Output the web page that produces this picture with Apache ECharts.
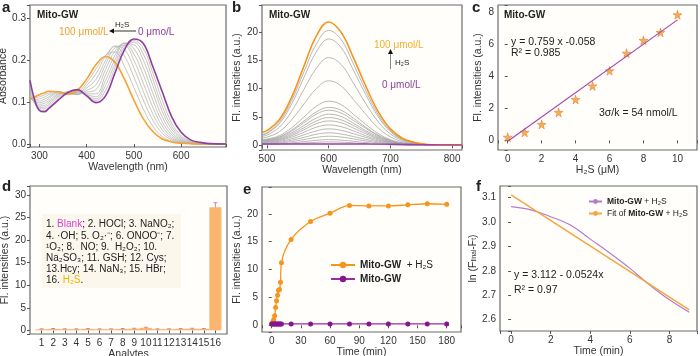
<!DOCTYPE html>
<html><head><meta charset="utf-8">
<script src="https://cdn.jsdelivr.net/npm/echarts@6/dist/echarts.min.js"></script>
<style>html,body{margin:0;padding:0;background:#fff}#c{width:700px;height:356px}</style>
</head><body><div id="c"></div><script>
// ---------- Panel a : absorption spectra ----------
const aWavelength = [280,290,300,310,320,340,360,380,400,420,440,460,480,500,520,540,560,580,600,620,640,660,695];
const aAbs0   = [.152,.105,.080,.077,.085,.105,.123,.130,.115,.099,.115,.170,.225,.251,.240,.185,.125,.065,.028,.010,.004,.001,0];
const aAbs100 = [.108,.113,.118,.122,.126,.125,.119,.128,.155,.190,.209,.195,.155,.105,.060,.030,.012,.005,.002,.001,0,0,0];
const aAbsIntermediate = [
  [.140,.100,.082,.080,.088,.108,.124,.128,.115,.104,.128,.182,.232,.247,.228,.170,.105,.050,.020,.008,.003,.001,0],
  [.130,.098,.085,.084,.092,.112,.124,.126,.116,.108,.140,.192,.237,.243,.215,.155,.090,.042,.016,.006,.002,.001,0],
  [.122,.097,.088,.088,.096,.115,.124,.124,.118,.113,.152,.202,.240,.237,.200,.140,.078,.035,.013,.005,.002,0,0],
  [.117,.098,.091,.092,.100,.118,.124,.122,.120,.120,.165,.212,.242,.228,.183,.122,.065,.028,.010,.004,.001,0,0],
  [.113,.100,.095,.097,.104,.120,.123,.120,.124,.130,.178,.222,.240,.215,.165,.105,.053,.022,.008,.003,.001,0,0],
  [.110,.102,.099,.102,.109,.122,.122,.118,.128,.142,.190,.230,.235,.200,.145,.088,.043,.017,.006,.002,.001,0,0],
  [.108,.104,.103,.107,.113,.124,.121,.118,.134,.155,.200,.234,.226,.182,.125,.072,.034,.013,.005,.002,0,0,0],
  [.107,.107,.108,.112,.118,.125,.120,.120,.140,.168,.210,.233,.210,.160,.105,.057,.026,.010,.004,.001,0,0,0],
  [.107,.110,.113,.117,.122,.126,.120,.123,.147,.180,.212,.220,.185,.135,.083,.043,.018,.007,.003,.001,0,0,0]
];
// ---------- Panel b : fluorescence spectra ----------
const bWavelength = [492,500,520,540,560,580,600,620,640,660,680,700,720,740,760,780,800,816];
const bFl100 = [2.3,2.6,4.5,8.5,14.0,19.3,21.8,20.0,15.5,10.5,6.0,2.9,1.2,0.5,0.15,0.05,0.02,0];
const bFl0   = [0.22,0.22,0.22,0.22,0.22,0.22,0.22,0.22,0.22,0.22,0.21,0.19,0.16,0.13,0.1,0.08,0.08,0.08];
const bFlIntermediate = [
  [1.9,2.2,4.1,7.9,13.0,17.9,20.3,18.7,14.4,9.7,5.5,2.6,1.1,0.45,0.14,0.04,0.02,0],
  [1.8,2.1,3.8,7.3,12.0,16.5,18.8,17.3,13.3,9.0,5.1,2.4,1.0,0.41,0.13,0.04,0.02,0],
  [1.6,1.8,3.2,6.0,9.9,13.6,15.5,14.3,11.0,7.4,4.2,2.0,0.85,0.34,0.11,0.03,0.01,0],
  [1.3,1.45,2.4,4.5,7.3,10.0,11.4,10.5,8.1,5.5,3.1,1.5,0.63,0.25,0.08,0.02,0.01,0],
  [1.0,1.1,1.7,3.1,5.0,6.9,7.8,7.2,5.5,3.7,2.1,1.0,0.43,0.17,0.05,0.02,0,0],
  [0.9,1.0,1.5,2.7,4.3,5.9,6.7,6.2,4.8,3.2,1.8,0.87,0.37,0.15,0.05,0.01,0,0],
  [0.85,0.95,1.4,2.5,4.0,5.5,6.2,5.7,4.4,3.0,1.7,0.8,0.34,0.14,0.04,0.01,0,0],
  [0.8,0.85,1.25,2.2,3.5,4.8,5.5,5.1,3.9,2.6,1.5,0.72,0.3,0.12,0.04,0.01,0,0],
  [0.7,0.78,1.1,1.95,3.1,4.3,4.9,4.5,3.5,2.35,1.3,0.64,0.27,0.11,0.03,0.01,0,0],
  [0.62,0.7,1.0,1.7,2.75,3.8,4.3,4.0,3.05,2.05,1.15,0.56,0.24,0.09,0.03,0.01,0,0],
  [0.55,0.6,0.85,1.45,2.3,3.2,3.6,3.3,2.55,1.7,0.97,0.47,0.2,0.08,0.03,0,0,0],
  [0.45,0.5,0.7,1.15,1.85,2.55,2.9,2.65,2.05,1.4,0.78,0.38,0.16,0.06,0.02,0,0,0],
  [0.35,0.4,0.55,0.9,1.4,1.95,2.2,2.0,1.55,1.05,0.6,0.29,0.12,0.05,0.02,0,0,0],
  [0.28,0.3,0.4,0.65,1.0,1.4,1.6,1.47,1.13,0.77,0.43,0.21,0.09,0.04,0.01,0,0,0],
  [0.2,0.21,0.28,0.42,0.65,0.88,1.0,0.92,0.71,0.48,0.27,0.13,0.06,0.02,0.01,0,0,0],
  [0.15,0.16,0.2,0.28,0.4,0.53,0.6,0.55,0.43,0.29,0.17,0.08,0.04,0.01,0,0,0,0]
];
// ---------- Panel c : linear range ----------
const cConc = [0,1,2,3,4,5,6,7,8,9,10];
const cFl = [0.2,0.5,1.0,1.75,2.55,3.4,4.35,5.45,6.25,6.75,7.85];
const cFitConc = [0,10];
const cFitFl = [-0.06,7.53];
// ---------- Panel d : selectivity ----------
const dAnalytes = ['1','2','3','4','5','6','7','8','9','10','11','12','13','14','15','16'];
const dIntensity = [0.25,0.3,0.25,0.25,0.3,0.25,0.25,0.3,0.35,0.55,0.25,0.25,0.3,0.35,0.3,27.3];
const dError = [0.08,0.1,0.08,0.08,0.1,0.08,0.08,0.08,0.1,0.12,0.08,0.08,0.08,0.1,0.08,1.0];
// ---------- Panel e : kinetics ----------
const eTime = [0,1,2,3,4,5,6,7,8,9,10,20,40,60,80,100,120,140,160,180];
const eWithH2S = [0.3,0.6,1.0,1.7,3.2,4.4,5.4,6.3,6.4,7.7,11.2,15.4,18.6,20.1,21.5,21.4,21.4,21.6,21.8,21.7];
const eProbeOnly = [0.25,0.25,0.25,0.25,0.25,0.25,0.25,0.25,0.25,0.25,0.25,0.25,0.25,0.25,0.25,0.25,0.25,0.25,0.25,0.25];
// ---------- Panel f : pseudo-first-order fit ----------
const fTime = [0,1,2,3,4,5,6,7,8,9];
const fLn = [3.063,3.05,3.022,2.988,2.93,2.872,2.81,2.742,2.681,2.63];
const fFitTime = [0,9];
const fFitLn = [3.112,2.640];

const FF = 'Arial, "Liberation Sans", Helvetica, sans-serif';
const zip = (xs, ys) => xs.map((x, i) => [x, ys[i]]);
const PURPLE = '#8e3f9e', ORANGE = '#f5a236';

function mkGrid(l, t, w, h) {
  return {left: l, top: t, width: w, height: h, show: true, borderColor: '#6a6a6a', borderWidth: 1.2,
          backgroundColor: '#fffefa', containLabel: false, outerBoundsMode: 'none'};
}
function niceFmt(step, dec) {
  return v => (Math.abs(v / step - Math.round(v / step)) < 1e-6) ? Number(v).toFixed(dec) : '';
}
function vAxis(gi, min, max, split, step, dec, name, gap, extra) {
  return Object.assign({
    type: 'value', gridIndex: gi, min, max, splitNumber: split,
    axisLine: {show: false}, splitLine: {show: false},
    axisTick: {show: true, inside: false, length: 3, lineStyle: {color: '#555'}},
    axisLabel: {fontSize: 10, color: '#333', margin: 4, fontFamily: FF, formatter: niceFmt(step, dec)},
    name, nameLocation: 'middle', nameGap: gap,
    nameTextStyle: {fontSize: 10.5, color: '#333', fontFamily: FF}
  }, extra || {});
}

const grids = [
  mkGrid(30, 5, 196, 142),    // a
  mkGrid(262, 5, 200, 145),   // b
  mkGrid(498, 5, 199, 145),   // c
  mkGrid(30, 186, 197, 148),  // d
  mkGrid(262, 187, 199, 145), // e
  mkGrid(500, 186, 197, 145)  // f
];

const xAxes = [
  vAxis(0, 280, 695, 4, 100, 0, 'Wavelength (nm)', 13),
  vAxis(1, 492, 816, 3, 100, 0, 'Wavelength (nm)', 12),
  vAxis(2, -0.57, 11.15, 6, 2, 0, 'H₂S (μM)', 12),
  {type: 'category', gridIndex: 3, boundaryGap: false, data: ['0', ...dAnalytes, '17'],
   axisLine: {show: false}, splitLine: {show: false},
   axisTick: {show: true, length: 3, interval: (i) => i > 0 && i < 17, lineStyle: {color: '#555'}},
   axisLabel: {fontSize: 10, color: '#333', margin: 4, interval: 0, fontFamily: FF,
               formatter: v => (v === '0' || v === '17') ? '' : v},
   name: 'Analytes', nameLocation: 'middle', nameGap: 12,
   nameTextStyle: {fontSize: 10.5, color: '#333', fontFamily: FF}},
  vAxis(4, -10, 194.7, 7, 30, 0, 'Time (min)', 12),
  vAxis(5, -0.56, 9.39, 5, 2, 0, 'Time (min)', 12)
];
const yAxes = [
  vAxis(0, -0.007, 0.332, 3, 0.1, 1, 'Absorbance', 18),
  vAxis(1, -0.83, 24.8, 5, 5, 0, 'Fl. intensities (a.u.)', 16),
  vAxis(2, -0.6, 8.46, 5, 2, 0, 'Fl. intensities (a.u.)', 14),
  vAxis(3, -0.82, 32, 6, 5, 0, 'Fl. intensities (a.u.)', 18),
  vAxis(4, -1.2, 24.8, 5, 5, 0, 'Fl. intensities (a.u.)', 16),
  vAxis(5, 2.553, 3.148, 6, 0.1, 1, 'ln (F{s|final}-F{s|t})', 21,
        {nameTextStyle: {fontSize: 10.5, color: '#333', fontFamily: FF,
                         rich: {s: {fontSize: 6.5, fontFamily: FF, color: '#333', verticalAlign: 'bottom'}}}})
];

const series = [];
// a
aAbsIntermediate.forEach(arr => series.push({type: 'line', xAxisIndex: 0, yAxisIndex: 0, data: zip(aWavelength, arr),
  smooth: 0.4, showSymbol: false, silent: true, lineStyle: {color: '#b8b8b8', width: 0.8}}));
series.push({type: 'line', xAxisIndex: 0, yAxisIndex: 0, data: zip(aWavelength, aAbs100), smooth: 0.4, showSymbol: false,
  lineStyle: {color: ORANGE, width: 1.6}});
series.push({type: 'line', xAxisIndex: 0, yAxisIndex: 0, data: zip(aWavelength, aAbs0), smooth: 0.4, showSymbol: false,
  lineStyle: {color: PURPLE, width: 1.6}});
// b
bFlIntermediate.forEach(arr => series.push({type: 'line', xAxisIndex: 1, yAxisIndex: 1, data: zip(bWavelength, arr),
  smooth: 0.4, showSymbol: false, silent: true, lineStyle: {color: '#a6a6a6', width: 0.8}}));
series.push({type: 'line', xAxisIndex: 1, yAxisIndex: 1, data: zip(bWavelength, bFl100), smooth: 0.4, showSymbol: false,
  lineStyle: {color: '#f7941d', width: 1.6}});
series.push({type: 'line', xAxisIndex: 1, yAxisIndex: 1, data: zip(bWavelength, bFl0), smooth: 0.4, showSymbol: false,
  lineStyle: {color: '#a03cb0', width: 1.4}});
// c
series.push({type: 'line', xAxisIndex: 2, yAxisIndex: 2, data: zip(cFitConc, cFitFl), showSymbol: false,
  lineStyle: {color: '#a648ad', width: 1.2}});
series.push({type: 'scatter', xAxisIndex: 2, yAxisIndex: 2, data: zip(cConc, cFl),
  symbol: 'path://M50,0 L61,35 L98,35 L68,57 L79,91 L50,70 L21,91 L32,57 L2,35 L39,35 Z', symbolSize: 9,
  itemStyle: {color: '#f59a2c', borderColor: '#d06a1a', borderWidth: 0.5}});
// d
series.push({type: 'bar', xAxisIndex: 3, yAxisIndex: 3, data: zip(dAnalytes, dIntensity), barWidth: 12,
  itemStyle: {color: '#fbb56e'}});
series.push({type: 'custom', xAxisIndex: 3, yAxisIndex: 3,
  data: dAnalytes.map((c, i) => [c, dIntensity[i] - dError[i], dIntensity[i] + dError[i]]),
  renderItem: (params, api) => {
    const x = api.value(0);
    const lo = api.coord([x, api.value(1)]);
    const hi = api.coord([x, api.value(2)]);
    const st = {stroke: '#c8679e', lineWidth: 0.8};
    return {type: 'group', children: [
      {type: 'line', shape: {x1: lo[0], y1: lo[1], x2: hi[0], y2: hi[1]}, style: st},
      {type: 'line', shape: {x1: lo[0] - 2, y1: lo[1], x2: lo[0] + 2, y2: lo[1]}, style: st},
      {type: 'line', shape: {x1: hi[0] - 2, y1: hi[1], x2: hi[0] + 2, y2: hi[1]}, style: st}
    ]};
  }});
// e
series.push({name: 'eH2S', type: 'line', xAxisIndex: 4, yAxisIndex: 4, data: zip(eTime, eWithH2S), smooth: 0.3,
  symbol: 'circle', symbolSize: 5, itemStyle: {color: '#f7941d'}, lineStyle: {color: '#f7941d', width: 1.3}});
series.push({name: 'eGW', type: 'line', xAxisIndex: 4, yAxisIndex: 4, data: zip(eTime, eProbeOnly),
  symbol: 'circle', symbolSize: 5, itemStyle: {color: '#86168c'}, lineStyle: {color: '#9c2aa0', width: 1.3}});
// f
series.push({name: 'fH2S', type: 'line', xAxisIndex: 5, yAxisIndex: 5, data: zip(fTime, fLn), smooth: 0.4,
  symbol: 'none', itemStyle: {color: '#b27ccc'}, lineStyle: {color: '#b27ccc', width: 1.2}});
series.push({name: 'fFit', type: 'line', xAxisIndex: 5, yAxisIndex: 5, data: zip(fFitTime, fFitLn),
  symbol: 'none', itemStyle: {color: '#f4a640'}, lineStyle: {color: '#f4a640', width: 1.5}});

const legendNames = {eH2S: '{b|Mito-GW}  + H₂S', eGW: '{b|Mito-GW}', fH2S: '{b|Mito-GW} + H₂S', fFit: 'Fit of {b|Mito-GW} + H₂S'};
const legends = [
  {orient: 'vertical', left: 325, top: 255, itemWidth: 24, itemHeight: 8, itemGap: 4, selectedMode: false,
   data: ['eH2S', 'eGW'], formatter: n => legendNames[n],
   textStyle: {fontSize: 10, color: '#222', fontFamily: FF, rich: {b: {fontWeight: 'bold', fontSize: 10, fontFamily: FF, color: '#222'}}}},
  {orient: 'vertical', left: 583, top: 192, itemWidth: 13, itemHeight: 6, itemGap: 3, selectedMode: false,
   data: ['fH2S', 'fFit'], formatter: n => legendNames[n],
   textStyle: {fontSize: 8.5, color: '#222', fontFamily: FF, rich: {b: {fontWeight: 'bold', fontSize: 8.5, fontFamily: FF, color: '#222'}}}}
];

function txt(x, y, text, font, fill, extra) {
  return {type: 'text', x, y, silent: true, z: 100,
    style: Object.assign({text, font: font + ' ' + FF, fill: fill || '#222', verticalAlign: 'middle', align: 'left'}, extra || {})};
}
const graphics = [
  // a
  txt(2, 8, 'a', 'bold 15px'), txt(37, 15.5, 'Mito-GW', 'bold 10px'),
  txt(59, 32, '100 μmol/L', '10px', '#f0a030'), txt(115, 25, 'H₂S', '8px'),
  txt(138, 32, '0 μmo/L', '10px', PURPLE),
  {type: 'line', silent: true, shape: {x1: 136, y1: 31, x2: 113, y2: 31}, style: {stroke: '#333', lineWidth: 1}},
  {type: 'polygon', silent: true, shape: {points: [[109, 31], [114, 28.5], [114, 33.5]]}, style: {fill: '#111'}},
  // b
  txt(232, 8, 'b', 'bold 15px'), txt(269, 15, 'Mito-GW', 'bold 10px'),
  txt(374, 45, '100 μmol/L', '10px', '#f3b12c'), txt(395, 63, 'H₂S', '8px'),
  txt(382, 85, '0 μmol/L', '10px', PURPLE),
  {type: 'line', silent: true, shape: {x1: 390.5, y1: 69, x2: 390.5, y2: 53}, style: {stroke: '#888', lineWidth: 1}},
  {type: 'polygon', silent: true, shape: {points: [[390.5, 49], [388, 54], [393, 54]]}, style: {fill: '#111'}},
  // c
  txt(472, 8, 'c', 'bold 15px'), txt(504, 15, 'Mito-GW', 'bold 10px'),
  txt(511, 42, 'y = 0.759 x -0.058', '10.5px'), txt(511, 53, 'R² = 0.985', '10.5px'),
  txt(599, 113, '3σ/k = 54 nmol/L', '10.5px'),
  // d
  txt(2, 187, 'd', 'bold 15px'),
  {type: 'rect', silent: true, z: 90, shape: {x: 42, y: 214, width: 139, height: 74}, style: {fill: '#fbf7ec'}},
  txt(46, 219, '1. {m|Blank}; 2. HOCl; 3. NaNO₂;\n4. ·OH; 5. O₂·⁻; 6. ONOO⁻; 7.\n¹O₂; 8.  NO; 9.  H₂O₂; 10.\nNa₂SO₃; 11. GSH; 12. Cys;\n13.Hcy; 14. NaN₃; 15. HBr;\n16. {o|H₂S}.',
      '10px', '#222', {verticalAlign: 'top', lineHeight: 11.2,
      rich: {m: {fill: '#d63fd6', fontSize: 10, fontFamily: FF, lineHeight: 11.2},
             o: {fill: '#f0b400', fontSize: 10, fontFamily: FF, lineHeight: 11.2}}}),
  // e
  txt(243, 190, 'e', 'bold 15px'),
  // f
  txt(476, 187, 'f', 'bold 15px'),
  txt(514, 275, 'y = 3.112 - 0.0524x', '10.5px'), txt(514, 290, 'R² = 0.97', '10.5px')
];

const chart = echarts.init(document.getElementById('c'), null, {renderer: 'canvas'});
chart.setOption({
  animation: false, backgroundColor: '#ffffff',
  textStyle: {fontFamily: FF},
  grid: grids, xAxis: xAxes, yAxis: yAxes, series, legend: legends, graphic: graphics
});
</script></body></html>
